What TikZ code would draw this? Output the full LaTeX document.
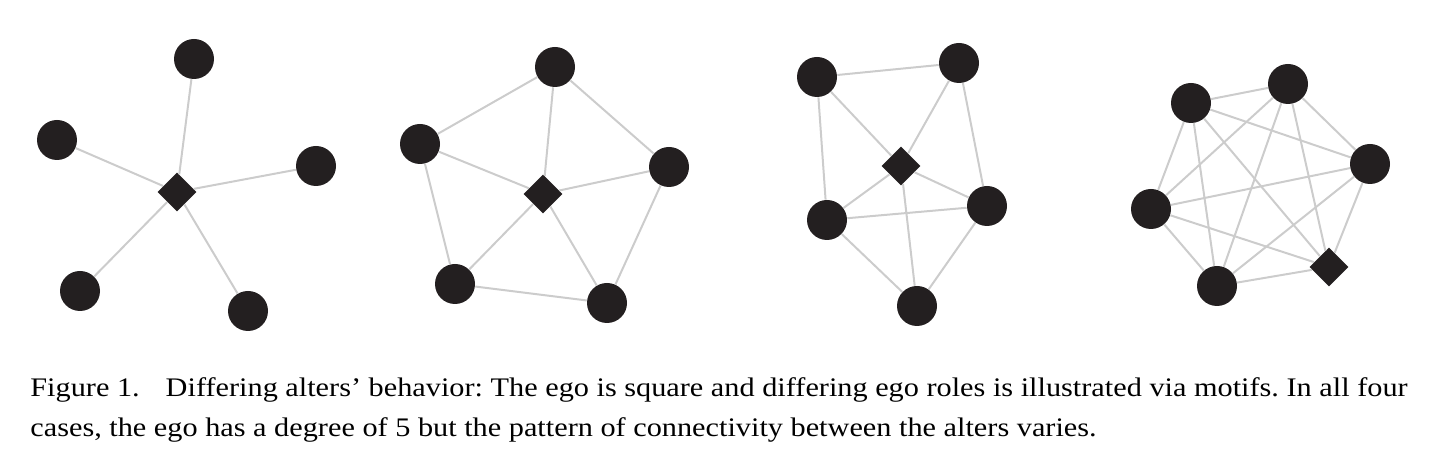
\documentclass[tikz,border=0pt]{standalone}
\usepackage{fontspec}
\setmainfont[FakeStretch=1.13]{Liberation Serif}
\usetikzlibrary{shapes.geometric}
\definecolor{nodeblack}{HTML}{231F20}
\definecolor{edgegray}{HTML}{CCCCCC}
\tikzset{
  alter/.style={circle,fill=nodeblack,minimum size=20pt,inner sep=0pt},
  ego/.style={diamond,fill=nodeblack,minimum size=19.5pt,inner sep=0pt},
  tie/.style={draw=edgegray,line width=1pt},
  captext/.style={anchor=base west,inner sep=0pt,font=\fontsize{13.4}{16}\selectfont\frenchspacing}
}
\begin{document}
\begin{tikzpicture}[x=0.5pt,y=-0.5pt]
\useasboundingbox (0,0) rectangle (1431,459);

% star
\node[ego] (e1) at (177,192) {};
\node[alter] (a1) at (194,59) {};
\node[alter] (b1) at (57,140) {};
\node[alter] (c1) at (316,166) {};
\node[alter] (d1) at (80,291) {};
\node[alter] (f1) at (248,311) {};
\foreach \n in {a1,b1,c1,d1,f1}
  \path[tie] (e1) -- (\n);

% wheel
\node[ego] (e2) at (543,194) {};
\node[alter] (a2) at (555,67) {};
\node[alter] (b2) at (420,144) {};
\node[alter] (c2) at (669,167) {};
\node[alter] (d2) at (455,284) {};
\node[alter] (f2) at (607,303) {};
\foreach \n in {a2,b2,c2,d2,f2}
  \path[tie] (e2) -- (\n);
\foreach \u/\v in {a2/b2,b2/d2,d2/f2,f2/c2,c2/a2}
  \path[tie] (\u) -- (\v);

% third
\node[ego] (e3) at (901,166) {};
\node[alter] (a3) at (817,77) {};
\node[alter] (b3) at (959,63) {};
\node[alter] (c3) at (827,220) {};
\node[alter] (d3) at (987,206) {};
\node[alter] (f3) at (917,306) {};
\foreach \n in {a3,b3,c3,d3,f3}
  \path[tie] (e3) -- (\n);
\foreach \u/\v in {a3/b3,a3/c3,b3/d3,c3/d3,c3/f3,d3/f3}
  \path[tie] (\u) -- (\v);

% clique
\node[ego] (e4) at (1329,267) {};
\node[alter] (a4) at (1191,103) {};
\node[alter] (b4) at (1288,84) {};
\node[alter] (c4) at (1370,164) {};
\node[alter] (d4) at (1151,209) {};
\node[alter] (f4) at (1217,286) {};
\foreach \u/\v in {e4/a4,e4/b4,e4/c4,e4/d4,e4/f4,a4/b4,a4/c4,a4/d4,a4/f4,b4/c4,b4/d4,b4/f4,c4/d4,c4/f4,d4/f4}
  \path[tie] (\u) -- (\v);

\node[captext] (cap1) at (30,397)
  {Figure 1.\hspace{13pt}Differing alters’ behavior: The ego is square and differing ego roles is illustrated via motifs. In all four};
\node[captext] (cap2) at (30,437)
  {cases, the ego has a degree of 5 but the pattern of connectivity between the alters varies.};
\end{tikzpicture}
\end{document}
